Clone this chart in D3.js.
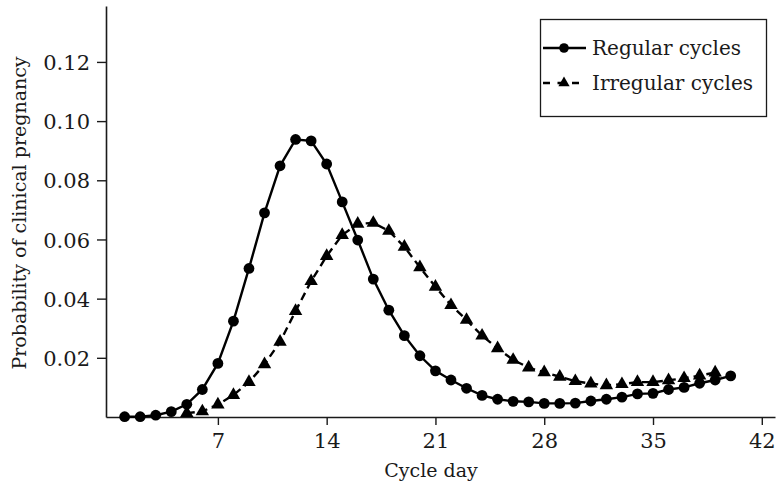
<!DOCTYPE html>
<html>
<head>
<meta charset="utf-8">
<script src="https://cdn.jsdelivr.net/npm/d3@7"></script>
<style>
  html, body { margin: 0; padding: 0; background: #fff; }
  svg { display: block; }
  text { font-family: "DejaVu Serif", "Liberation Serif", serif; fill: #1a1a1a; }
</style>
</head>
<body>
<div id="chart"></div>
<script>
// ---- data ----
const regularDays = [1,2,3,4,5,6,7,8,9,10,11,12,13,14,15,16,17,18,19,20,21,22,23,24,25,26,27,28,29,30,31,32,33,34,35,36,37,38,39,40];
const regularValues = [0.0001,0.0001,0.0006,0.0018,0.0043,0.0093,0.0181,0.0324,0.0502,0.0690,
  0.0849,0.0938,0.0933,0.0855,0.0727,0.0598,0.0466,0.0361,0.0275,0.0207,
  0.0156,0.0125,0.0097,0.0073,0.0060,0.0053,0.0051,0.0046,0.0046,0.0047,
  0.0054,0.0060,0.0067,0.0078,0.0080,0.0093,0.0100,0.0114,0.0125,0.0139];
const irregularDays = [5,6,7,8,9,10,11,12,13,14,15,16,17,18,19,20,21,22,23,24,25,26,27,28,29,30,31,32,33,34,35,36,37,38,39];
const irregularValues = [0.0013,0.0019,0.0042,0.0074,0.0118,0.0178,0.0254,0.0358,0.0459,0.0544,
  0.0615,0.0653,0.0656,0.0629,0.0575,0.0506,0.0440,0.0378,0.0328,0.0275,
  0.0232,0.0193,0.0167,0.0151,0.0136,0.0121,0.0113,0.0107,0.0111,0.0118,
  0.0118,0.0124,0.0131,0.0140,0.0150];
const xTicks = [7,14,21,28,35,42];
const yTicks = [0.02,0.04,0.06,0.08,0.10,0.12];
const seriesNames = ["Regular cycles", "Irregular cycles"];
const xLabel = "Cycle day";
const yLabel = "Probability of clinical pregnancy";

// ---- chart ----
const W = 780, H = 489;
const svg = d3.select("#chart").append("svg").attr("width", W).attr("height", H);

const x = d3.scaleLinear().domain([-0.2, 42.85]).range([106, 775]);
const y = d3.scaleLinear().domain([0, 0.1389]).range([417, 6]);

// axes
const xAxis = svg.append("g").attr("transform", `translate(0,${y(0)})`)
  .call(d3.axisBottom(x).tickValues(xTicks).tickSize(8).tickSizeOuter(0).tickPadding(8).tickFormat(d3.format("d")));
const yAxis = svg.append("g").attr("transform", `translate(${x.range()[0]},0)`)
  .call(d3.axisLeft(y).tickValues(yTicks).tickSize(9).tickSizeOuter(0).tickPadding(7).tickFormat(d3.format(".2f")));
[xAxis, yAxis].forEach(g => {
  g.selectAll("path.domain").attr("stroke", "#1a1a1a").attr("stroke-width", 1.6);
  g.selectAll(".tick line").attr("stroke", "#1a1a1a").attr("stroke-width", 1.4);
  g.selectAll(".tick text").attr("font-family", "DejaVu Serif").attr("font-size", 21).attr("fill", "#1a1a1a");
});
yAxis.selectAll(".tick text").attr("dy", "0.36em");

// axis labels
svg.append("text").attr("x", 431).attr("y", 477).attr("text-anchor", "middle")
  .attr("font-size", 19).text(xLabel);
svg.append("text").attr("transform", "translate(26,213) rotate(-90)").attr("text-anchor", "middle")
  .attr("font-size", 19).text(yLabel);

const regular = regularDays.map((d, i) => [d, regularValues[i]]);
const irregular = irregularDays.map((d, i) => [d, irregularValues[i]]);
const line = d3.line().x(d => x(d[0])).y(d => y(d[1]));

// irregular (dashed, triangles)
svg.append("path").datum(irregular).attr("d", line).attr("fill", "none")
  .attr("stroke", "#000").attr("stroke-width", 2.4).attr("stroke-dasharray", "8,5");
const tri = d3.symbol().type(d3.symbolTriangle).size(78);
svg.append("g").selectAll("path").data(irregular).join("path")
  .attr("d", tri).attr("transform", d => `translate(${x(d[0])},${y(d[1])})`).attr("fill", "#000");

// regular (solid, circles)
svg.append("path").datum(regular).attr("d", line).attr("fill", "none")
  .attr("stroke", "#000").attr("stroke-width", 2.4);
svg.append("g").selectAll("circle").data(regular).join("circle")
  .attr("cx", d => x(d[0])).attr("cy", d => y(d[1])).attr("r", 5.4).attr("fill", "#000");

// legend
const lg = svg.append("g");
lg.append("rect").attr("x", 540.5).attr("y", 19.5).attr("width", 226).attr("height", 97)
  .attr("fill", "#fff").attr("stroke", "#1a1a1a").attr("stroke-width", 1.3);
const rows = [48, 83];
lg.append("line").attr("x1", 543).attr("x2", 586).attr("y1", rows[0]).attr("y2", rows[0])
  .attr("stroke", "#000").attr("stroke-width", 2.4);
lg.append("circle").attr("cx", 564).attr("cy", rows[0]).attr("r", 4.8).attr("fill", "#000");
lg.append("line").attr("x1", 543).attr("x2", 586).attr("y1", rows[1]).attr("y2", rows[1])
  .attr("stroke", "#000").attr("stroke-width", 2.4).attr("stroke-dasharray", "7,7.5");
lg.append("path").attr("d", d3.symbol().type(d3.symbolTriangle).size(55)())
  .attr("transform", `translate(564,${rows[1]})`).attr("fill", "#000");
lg.selectAll("text.lbl").data(seriesNames).join("text").attr("class", "lbl")
  .attr("x", 592).attr("y", (d, i) => rows[i]).attr("dy", "0.35em")
  .attr("font-size", 20).text(d => d);
</script>
</body>
</html>
